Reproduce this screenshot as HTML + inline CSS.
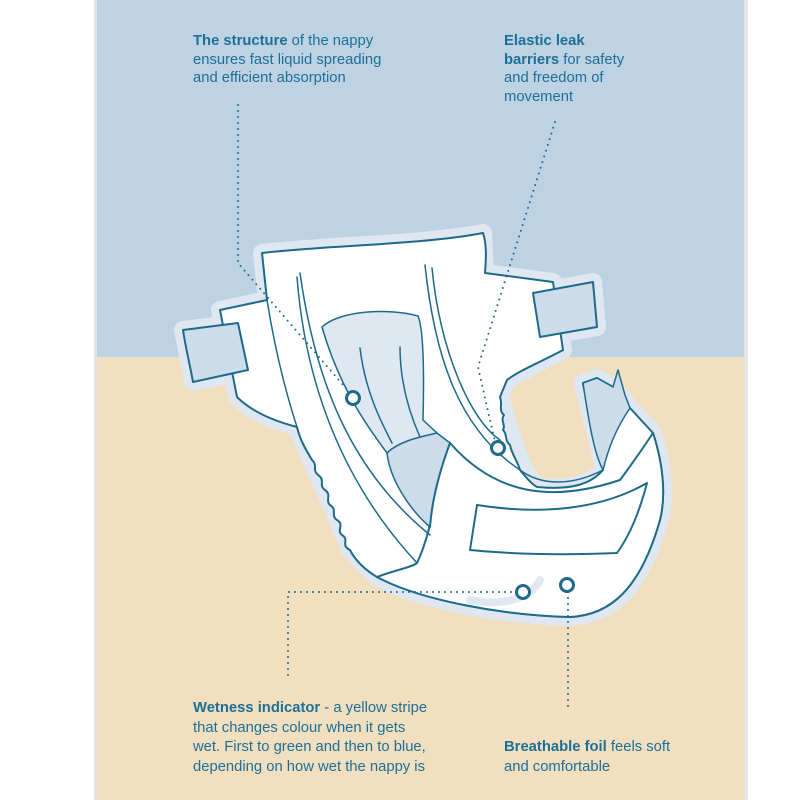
<!DOCTYPE html>
<html><head><meta charset="utf-8"><style>
html,body{margin:0;padding:0;background:#fff;}
#w{position:relative;width:800px;height:800px;overflow:hidden;background:#fff;}
.t{position:absolute;font-family:"Liberation Sans",sans-serif;font-size:14.8px;line-height:18.5px;color:#1e6f96;}
.t b{font-weight:bold;}
</style></head><body><div id="w">
<div style="position:absolute;left:97px;top:0;width:647px;height:357px;background:#bdd2e3"></div>
<div style="position:absolute;left:97px;top:357px;width:647px;height:443px;background:#f1dfc0"></div>
<div style="position:absolute;left:94px;top:0;width:3px;height:800px;background:#e4e4e6"></div>
<div style="position:absolute;left:744px;top:0;width:4px;height:800px;background:#e4e4e6"></div>
<svg width="800" height="800" style="position:absolute;left:0;top:0" fill="none" stroke-linejoin="round" stroke-linecap="round">
<g id="sil">
<path d="M262,253 C330,245 420,245 483,233 L485,273 L553,282 L563,350 L507,380 L500,397 C510,430 520,470 537,487 C570,490 590,485 603,470 C600,440 585,400 583,383 L597,378 L613,387 L630,408 L653,433 C665,470 665,500 660,520 C640,590 610,615 570,617 C500,615 420,600 377,577 L350,550 C330,500 310,460 297,427 C270,420 250,410 237,397 L220,310 L267,300 Z" />
<path d="M183,330 L238,323 L248,370 L193,382 Z"/>
<path d="M533,293 L593,282 L597,327 L540,337 Z"/>
</g>
<use href="#sil" stroke="#dfe8f1" stroke-width="18" fill="#dfe8f1"/>
<path d="M262,253 C330,245 420,245 483,233 C487,245 486,260 485,273 L553,282 L563,350 C545,360 520,370 507,380 L500,397 C503,405 498,410 504,415 C500,420 506,425 503,430 C508,435 504,440 510,445 C512,455 518,462 520,470 C528,480 533,485 537,487 C570,490 590,485 603,470 C600,440 585,400 583,383 L597,378 L613,387 L630,408 L653,433 C665,470 665,500 660,520 C640,590 610,615 570,617 C500,615 420,600 377,577 C365,570 355,560 350,550 C340,545 350,540 342,535 C336,530 345,525 337,520 C330,515 338,510 330,505 C325,500 332,495 325,490 C318,485 326,480 318,475 C312,470 318,465 312,460 C306,450 300,440 297,427 C270,420 250,410 237,397 L220,310 L267,300 Z" fill="#fff" stroke="#1d6a8a" stroke-width="2"/>
<path d="M183,330 L238,323 L248,370 L193,382 C190,365 186,350 183,330 Z" fill="#cddcea" stroke="#1d6a8a" stroke-width="2"/>
<path d="M533,293 L593,282 L597,327 L540,337 Z" fill="#cddcea" stroke="#1d6a8a" stroke-width="2"/>
<path d="M322,327 C340,310 390,308 418,316 C424,330 424,380 423,420 L437,433 C420,445 400,450 387,453 C370,430 340,390 322,327 Z" fill="#dfe8f1" stroke="#1d6a8a" stroke-width="1.5"/>
<path d="M387,453 C400,440 425,436 437,433 L450,443 C440,470 432,500 430,527 C410,510 390,480 387,453 Z" fill="#cddcea" stroke="#1d6a8a" stroke-width="1.5"/>
<path d="M583,383 L597,378 L613,387 L618,370 L625,395 L630,408 C615,430 608,450 603,470 C595,455 590,430 583,383 Z" fill="#cddcea" stroke="#1d6a8a" stroke-width="1.5"/>
<path d="M450,443 C500,500 560,500 620,480 C635,460 645,445 653,433 C665,470 665,500 660,520 C640,590 610,615 570,617 C500,615 420,600 377,577 C395,570 410,568 417,563 C428,540 430,520 430,527 C432,500 440,470 450,443 Z" fill="#fff" stroke="#1d6a8a" stroke-width="2"/>
<path d="M477,505 C540,515 600,510 647,483 C640,510 630,535 617,553 C570,555 520,555 470,550 Z" fill="#fff" stroke="#1d6a8a" stroke-width="2"/>
<path d="M470,600 C500,606 530,600 540,580" stroke="#dfe8f1" stroke-width="8"/>
<g stroke="#1d6a8a" stroke-width="1.5">
<path d="M297,277 C305,380 340,480 417,563"/>
<path d="M300,273 C315,380 350,470 430,535"/>
<path d="M425,265 C435,360 460,430 520,470 C540,485 570,487 603,470"/>
<path d="M432,268 C440,350 470,420 500,440"/>
<path d="M360,348 C365,390 380,420 392,443"/>
<path d="M400,347 C400,380 408,410 420,437"/>
<path d="M267,300 C275,350 285,390 297,427"/>
</g>
<g stroke="#1d6a8a" stroke-width="2" stroke-dasharray="0 6">
<path d="M238,105 L238,263 L350,393"/>
<path d="M555,122 L478,367 L495,442"/>
<path d="M288,675 L288,592 L515,592"/>
<path d="M568,592 L568,712"/>
</g>
<g stroke="#1d6a8a" stroke-width="3" fill="#fff">
<circle cx="353" cy="398" r="6.5"/>
<circle cx="498" cy="448" r="6.5"/>
<circle cx="523" cy="592" r="6.5"/>
<circle cx="567" cy="585" r="6.5"/>
</g>
</svg>
<div class="t" style="left:193px;top:32px"><b>The structure</b> of the nappy<br>ensures fast liquid spreading<br>and efficient absorption</div>
<div class="t" style="left:504px;top:32px"><b>Elastic leak<br>barriers</b> for safety<br>and freedom of<br>movement</div>
<div class="t" style="left:193px;top:699px;line-height:19.5px"><b>Wetness indicator</b> - a yellow stripe<br>that changes colour when it gets<br>wet. First to green and then to blue,<br>depending on how wet the nappy is</div>
<div class="t" style="left:504px;top:738px;line-height:19.5px"><b>Breathable foil</b> feels soft<br>and comfortable</div>
</div></body></html>
